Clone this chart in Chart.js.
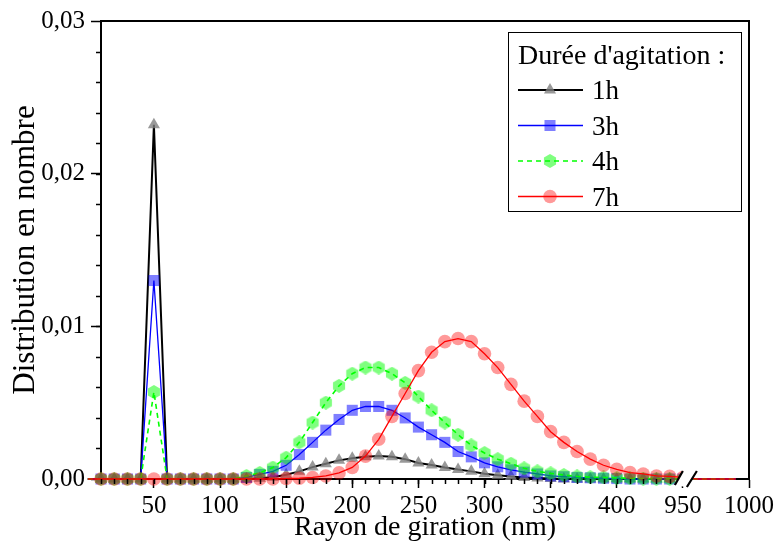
<!DOCTYPE html>
<html>
<head>
<meta charset="utf-8">
<script src="https://cdn.jsdelivr.net/npm/chart.js@4.4.1/dist/chart.umd.min.js"></script>
<style>
  html, body { margin: 0; padding: 0; background: #fff; }
</style>
</head>
<body>
<canvas id="myChart" width="777" height="546"></canvas>
<script>
// rayon de giration (nm) - axis is broken between 450 and 950
const radius = [
  0, 10, 20, 30, 40, 50, 60, 70, 80, 90,
  100, 110, 120, 130, 140, 150, 160, 170, 180, 190,
  200, 210, 220, 230, 240, 250, 260, 270, 280, 290,
  300, 310, 320, 330, 340, 350, 360, 370, 380, 390,
  400, 410, 420, 430, 440, 450, 960, 970, 980, 990
];

const agitation1h = [
  0, 0, 0, 0, 0, 0.0232, 0, 0, 0, 0,
  0, 0, 0, 0.00005, 0.00012, 0.00028, 0.0005, 0.00078, 0.001, 0.00122,
  0.00136, 0.00145, 0.0015, 0.00145, 0.0013, 0.00105, 0.00092, 0.00076, 0.00062, 0.0005,
  0.00035, 0.00025, 0.00016, 0.0001, 0.00006, 0.00003, 0, 0, 0, 0,
  0, 0, 0, 0, 0, 0, 0, 0, 0, 0
];

const agitation3h = [
  0, 0, 0, 0, 0, 0.013, 0, 0, 0, 0,
  0, 0, 0.0001, 0.0003, 0.0005, 0.0009, 0.0016, 0.0024, 0.0032, 0.0039,
  0.0045, 0.00475, 0.00475, 0.0045, 0.004, 0.0034, 0.0029, 0.0024, 0.0018, 0.00145,
  0.00106, 0.0008, 0.0006, 0.00045, 0.00033, 0.0002, 0.00015, 0.0001, 0.00008, 0.00005,
  0.00003, 0, 0, 0, 0, 0, 0, 0, 0, 0
];

const agitation4h = [
  0, 0, 0, 0, 0, 0.0057, 0, 0, 0, 0,
  0, 0, 0.0002, 0.0004, 0.00075, 0.0014, 0.0024, 0.0037, 0.005, 0.0061,
  0.0069, 0.0073, 0.0073, 0.0069, 0.0063, 0.0054, 0.0045, 0.0037, 0.0029, 0.0022,
  0.0017, 0.0013, 0.001, 0.0007, 0.0005, 0.00037, 0.00026, 0.00017, 0.00012, 0.0001,
  0.00007, 0.00005, 0.00003, 0.00002, 0.00001, 0, 0, 0, 0, 0
];

const agitation7h = [
  0, 0, 0, 0, 0, 0, 0, 0, 0, 0,
  0, 0, 0, 0, 0, 0.00003, 0.00005, 0.0001, 0.0002, 0.0004,
  0.00076, 0.0015, 0.0026, 0.0041, 0.0056, 0.0071, 0.0083, 0.009, 0.0092, 0.009,
  0.0082, 0.0073, 0.0062, 0.0051, 0.0041, 0.0031, 0.0024, 0.0018, 0.0013, 0.0009,
  0.00063, 0.00042, 0.00033, 0.0002, 0.00017, 0.0001, 0, 0, 0, 0
];

const seriesLabels = ["1h", "3h", "4h", "7h"];
const xTickValues = [50, 100, 150, 200, 250, 300, 350, 400, 950, 1000];
const xTickLabels = ["50", "100", "150", "200", "250", "300", "350", "400", "950", "1000"];
const yTickValues = [0, 0.01, 0.02, 0.03];
const yTickLabels = ["0,00", "0,01", "0,02", "0,03"];

const FONT = "'Liberation Serif', 'Times New Roman', serif";
const breakFrom = 450;
const breakTo = 950;

// values after the break are drawn shifted left
const toAxis = (r) => (r >= breakTo ? r - (breakTo - breakFrom) : r);
const toPoints = (values) => values.map((v, i) => ({ x: toAxis(radius[i]), y: v }));
const markerSize = (size) => (ctx) => (ctx.raw && ctx.raw.x > breakFrom ? 0 : size);

const makeHexagon = (size, fill) => {
  const c = document.createElement("canvas");
  c.width = size;
  c.height = size;
  const g = c.getContext("2d");
  const r = size / 2;
  g.beginPath();
  for (let i = 0; i < 6; i++) {
    const a = Math.PI / 2 + (i * Math.PI) / 3;
    g.lineTo(r + r * Math.cos(a), r + r * Math.sin(a));
  }
  g.closePath();
  g.fillStyle = fill;
  g.fill();
  return c;
};
const hexagon = makeHexagon(14, "rgba(0,255,0,0.5)");

const decorations = {
  id: "decorations",
  afterDatasetsDraw(chart) {
    const { ctx, chartArea, scales } = chart;
    const x = scales.x;
    const y = scales.y;
    ctx.save();
    ctx.strokeStyle = "#000";

    // minor ticks
    ctx.lineWidth = 1.5;
    ctx.beginPath();
    for (let r = 10; r < breakFrom; r += 10) {
      const px = Math.round(x.getPixelForValue(r)) + 0.5;
      ctx.moveTo(px, chartArea.bottom);
      ctx.lineTo(px, chartArea.bottom + 5);
    }
    for (let v = 0.002; v < 0.03; v += 0.002) {
      const py = Math.round(y.getPixelForValue(v)) + 0.5;
      ctx.moveTo(chartArea.left, py);
      ctx.lineTo(chartArea.left - 5, py);
    }
    ctx.stroke();

    // frame top / right
    ctx.lineWidth = 2;
    ctx.beginPath();
    ctx.moveTo(chartArea.left, chartArea.top);
    ctx.lineTo(chartArea.right, chartArea.top);
    ctx.lineTo(chartArea.right, chartArea.bottom);
    ctx.stroke();

    // axis break
    const bx = x.getPixelForValue(breakFrom);
    const b = chartArea.bottom;
    ctx.fillStyle = "#fff";
    ctx.beginPath();
    ctx.moveTo(bx - 8, b + 6);
    ctx.lineTo(bx + 3, b + 8);
    ctx.lineTo(bx + 14, b - 8);
    ctx.lineTo(bx, b - 8);
    ctx.closePath();
    ctx.fill();
    ctx.lineWidth = 2.2;
    ctx.beginPath();
    ctx.moveTo(bx - 8, b + 6);
    ctx.lineTo(bx, b - 8);
    ctx.moveTo(bx + 4, b + 8);
    ctx.lineTo(bx + 14, b - 8);
    ctx.stroke();
    ctx.restore();
  },
  afterDraw(chart) {
    const { ctx, chartArea } = chart;
    const left = chartArea.right - 241;
    const top = chartArea.top + 11;
    ctx.save();
    ctx.fillStyle = "#fff";
    ctx.fillRect(left, top, 233, 179);
    ctx.strokeStyle = "#000";
    ctx.lineWidth = 1;
    ctx.strokeRect(left + 0.5, top + 0.5, 233, 179);

    ctx.fillStyle = "#000";
    ctx.font = "28px " + FONT;
    ctx.textBaseline = "alphabetic";
    ctx.fillText("Durée d'agitation :", left + 10, top + 32);

    chart.data.datasets.forEach((ds, i) => {
      const cy = top + 58 + i * 35.5;
      ctx.save();
      ctx.strokeStyle = ds.borderColor;
      ctx.lineWidth = ds.borderWidth;
      ctx.setLineDash(ds.borderDash || []);
      ctx.beginPath();
      ctx.moveTo(left + 10, cy);
      ctx.lineTo(left + 75, cy);
      ctx.stroke();
      ctx.restore();

      ctx.fillStyle = ds.pointBackgroundColor;
      Chart.helpers.drawPoint(ctx, {
        pointStyle: ds.pointStyle,
        radius: ds.legendRadius,
        rotation: 0,
        borderWidth: 0
      }, left + 42, cy);

      ctx.fillStyle = "#000";
      ctx.font = "27px " + FONT;
      ctx.fillText(seriesLabels[i], left + 84, cy + 9);
    });
    ctx.restore();
  }
};

const ctx = document.getElementById("myChart").getContext("2d");
const myChart = new Chart(ctx, {
  type: "line",
  data: {
    datasets: [
      {
        label: seriesLabels[0],
        data: toPoints(agitation1h),
        borderColor: "#000",
        borderWidth: 2,
        pointStyle: "triangle",
        pointRadius: markerSize(7),
        legendRadius: 7,
        pointBackgroundColor: "rgba(128,128,128,0.8)",
        pointBorderWidth: 0,
        order: 3
      },
      {
        label: seriesLabels[1],
        data: toPoints(agitation3h),
        borderColor: "#0000ff",
        borderWidth: 1.3,
        pointStyle: "rect",
        pointRadius: markerSize(7.8),
        legendRadius: 7.8,
        pointBackgroundColor: "rgba(0,0,255,0.5)",
        pointBorderWidth: 0,
        order: 2
      },
      {
        label: seriesLabels[2],
        data: toPoints(agitation4h),
        borderColor: "#00ff00",
        borderWidth: 1.6,
        borderDash: [5, 4],
        pointStyle: hexagon,
        pointRadius: markerSize(7),
        legendRadius: 7,
        pointBackgroundColor: "rgba(0,255,0,0.5)",
        pointBorderWidth: 0,
        order: 1
      },
      {
        label: seriesLabels[3],
        data: toPoints(agitation7h),
        borderColor: "#ff0000",
        borderWidth: 1.3,
        pointStyle: "circle",
        pointRadius: markerSize(6.8),
        legendRadius: 6.8,
        pointBackgroundColor: "rgba(255,0,0,0.4)",
        pointBorderWidth: 0,
        order: 0
      }
    ]
  },
  options: {
    responsive: false,
    animation: false,
    layout: { padding: { top: 18, right: 28, left: 0, bottom: 0 } },
    elements: { line: { tension: 0 } },
    datasets: { line: { clip: false } },
    plugins: {
      legend: { display: false },
      tooltip: { enabled: false }
    },
    scales: {
      x: {
        type: "linear",
        min: 10,
        max: 500,
        afterBuildTicks: (scale) => {
          scale.ticks = xTickValues.map((v) => ({ value: toAxis(v) }));
        },
        afterFit: (scale) => {
          scale.height = 67;
        },
        ticks: {
          callback: (value, i) => xTickLabels[i],
          font: { family: FONT, size: 25 },
          color: "#000",
          padding: 3,
          maxRotation: 0,
          autoSkip: false
        },
        grid: { drawOnChartArea: false, tickLength: 9, tickWidth: 1.5, color: "#000" },
        border: { color: "#000", width: 2 },
        title: {
          display: true,
          text: "Rayon de giration (nm)",
          font: { family: FONT, size: 28 },
          color: "#000",
          padding: { top: 0, bottom: 2 }
        }
      },
      y: {
        min: 0,
        max: 0.03,
        afterBuildTicks: (scale) => {
          scale.ticks = yTickValues.map((v) => ({ value: v }));
        },
        afterFit: (scale) => {
          scale.width = 101;
        },
        ticks: {
          callback: (value, i) => yTickLabels[i],
          font: { family: FONT, size: 25 },
          color: "#000",
          padding: 6
        },
        grid: { drawOnChartArea: false, tickLength: 10, tickWidth: 1.5, color: "#000" },
        border: { color: "#000", width: 2 },
        title: {
          display: true,
          text: "Distribution en nombre",
          font: { family: FONT, size: 31 },
          color: "#000",
          padding: { top: 7, bottom: 0 }
        }
      }
    }
  },
  plugins: [decorations]
});
</script>
</body>
</html>
